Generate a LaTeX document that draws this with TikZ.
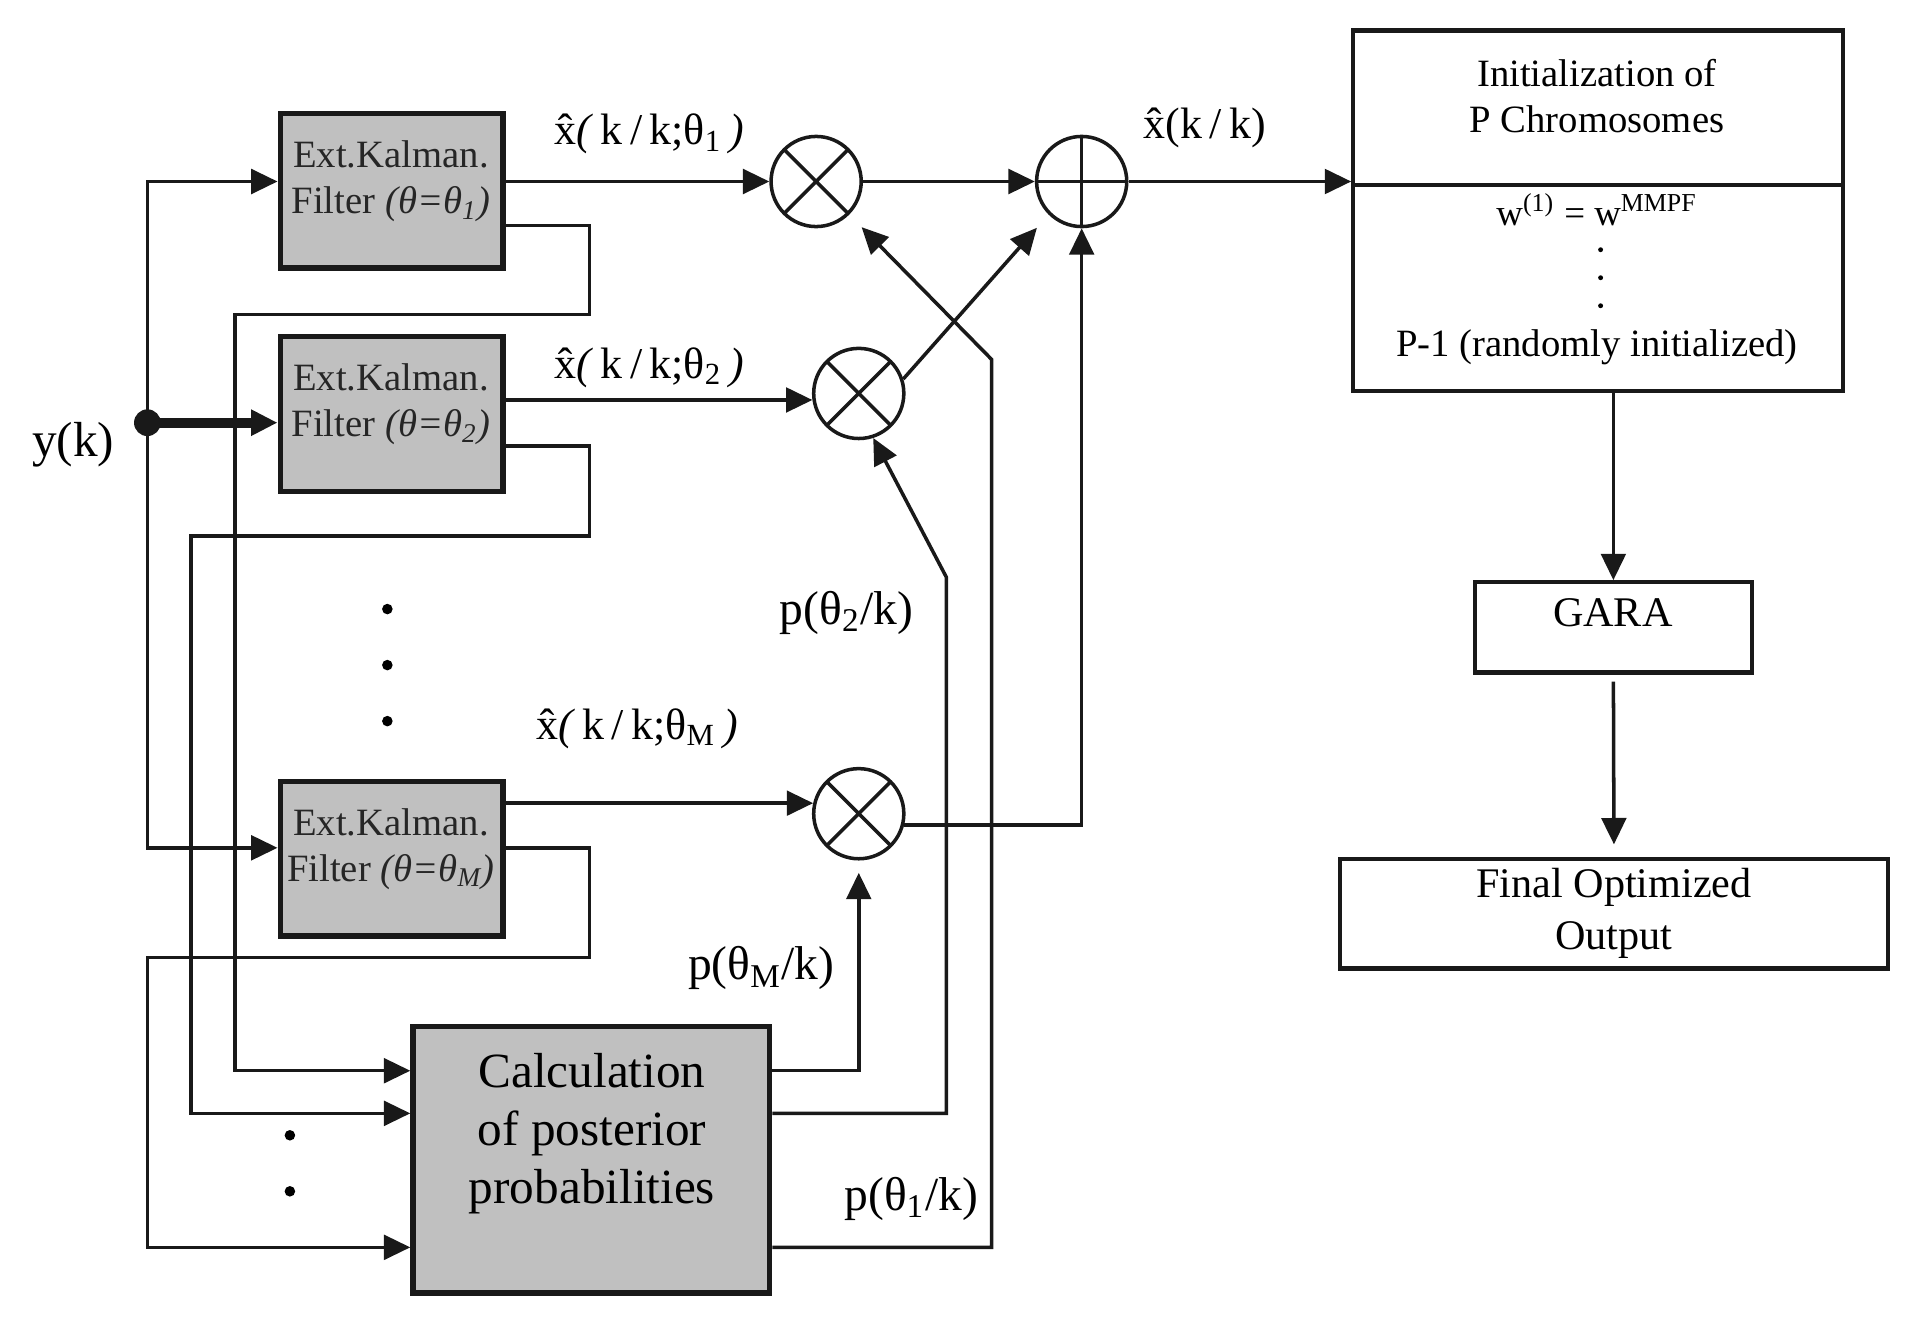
\documentclass[tikz,border=0pt]{standalone}
\usepackage{fontspec}
\setmainfont{Liberation Serif}
\usepackage{tikz}
\usetikzlibrary{arrows.meta,positioning,calc}
\definecolor{BoxGray}{RGB}{192,192,192}
\definecolor{LineK}  {RGB}{25, 25, 25}
\newcommand{\unitpx}{0.01218cm}
\newcommand{\xhat}{x\char"0302}

\tikzset{
  ekfbox/.style={draw=LineK,line width=1.5pt,fill=BoxGray,inner sep=0pt,
    minimum width=183*\unitpx,minimum height=127*\unitpx},
  calcbox/.style={ekfbox,minimum width=293*\unitpx,minimum height=219*\unitpx},
  outbox/.style={draw=LineK,line width=1.2pt,fill=white,inner sep=0pt},
  mult/.style={circle,draw=LineK,line width=1pt,minimum size=74*\unitpx,inner sep=0pt,
    path picture={\draw[line width=1pt]
      (path picture bounding box.north west)--(path picture bounding box.south east)
      (path picture bounding box.north east)--(path picture bounding box.south west);}},
  adder/.style={circle,draw=LineK,line width=1pt,minimum size=74*\unitpx,inner sep=0pt,
    path picture={\draw[line width=1pt]
      (path picture bounding box.north)--(path picture bounding box.south)
      (path picture bounding box.west)--(path picture bounding box.east);}},
  ekftxt/.style={align=center,text=black!85,font=\fontsize{11}{13}\selectfont},
  sig/.style={font=\fontsize{12.5}{14}\selectfont},
  prob/.style={font=\fontsize{13.5}{15}\selectfont},
  wire/.style={draw=LineK,line width=1pt},
  >={Triangle[length=7.5pt,width=7pt]}
}

\begin{document}
\begin{tikzpicture}[x=\unitpx,y=-\unitpx]
  \useasboundingbox (0,0) rectangle (1568,1082);

  % filter bank
  \node[ekfbox] (ekf1) at (321.5,156.5) {};
  \node[ekfbox] (ekf2) at (321.5,340) {};
  \node[ekfbox] (ekfM) at (321.5,705) {};
  \node[ekftxt] (t1) at (321,149) {Ext.Kalman.\\Filter \textit{(θ=θ\textsubscript{1})}};
  \node[ekftxt] (t2) at (321,332) {Ext.Kalman.\\Filter \textit{(θ=θ\textsubscript{2})}};
  \node[ekftxt] (tM) at (321,697) {Ext.Kalman.\\Filter \textit{(θ=θ\textsubscript{M})}};
  \foreach \y in {500,546,592}
    \fill (318,\y) circle (1.5pt);

  \node[calcbox] (calc) at (485.5,952) {};
  \node[align=center,font=\fontsize{14}{16.5}\selectfont] (tc) at (486,931)
    {Calculation\\of posterior\\probabilities};
  \foreach \y in {932,978}
    \fill (238,\y) circle (1.5pt);

  % weighting and sum
  \node[mult] (m1) at (670,149) {};
  \node[mult] (m2) at (705,323) {};
  \node[mult] (mM) at (705,668) {};
  \node[adder] (sum) at (888,149) {};

  % measurement input
  \coordinate (yk) at (121,347);
  \node[font=\fontsize{14}{16}\selectfont] (ylab) at (60,365) {y(k)};
  \draw[wire,->] (yk) |- (ekf1.west |- 0,149);
  \draw[wire,->] (yk) |- (ekfM.west |- 0,696);
  \draw[wire,->,line width=2.8pt] (yk) -- (ekf2.west |- yk);
  \fill[LineK] (yk) circle (3.8pt);

  % estimates to the multipliers
  \draw[wire,->] (ekf1.east |- m1.west) -- (m1.west);
  \draw[wire,->] (ekf2.east |- m2.188) -- (m2.188);
  \draw[wire,->] (ekfM.east |- mM.167) -- (mM.167);
  \node[sig] (lx1) at (533,110) {\xhat\textit{(}\,k\,/\,k;θ\textsubscript{1}\,\textit{)}};
  \node[sig] (lx2) at (533,302) {\xhat\textit{(}\,k\,/\,k;θ\textsubscript{2}\,\textit{)}};
  \node[sig] (lxM) at (523,598) {\xhat\textit{(}\,k\,/\,k;θ\textsubscript{M}\,\textit{)}};

  % residual feedback to the posterior block
  \draw[wire,->] (ekf1.east |- 0,185) -| (484,258) -| (193,879) -- (calc.west |- 0,879);
  \draw[wire,->] (ekf2.east |- 0,366) -| (484,440) -| (157,914) -- (calc.west |- 0,914);
  \draw[wire,->] (ekfM.east |- 0,696) -| (484,786) -| (121,1024) -- (calc.west |- 0,1024);

  % posterior weights
  \draw[wire,->,shorten >=3.5pt] (calc.east |- 0,879) -| (mM.south);
  \draw[wire,->] (calc.east |- 0,914) -| (777,474) -- (m2.-72);
  \draw[wire,->,shorten >=5pt] (calc.east |- 0,1024) -| (814,295) -- (m1.-45);
  \node[prob] (pM) at (625,795) {p(θ\textsubscript{M}/k)};
  \node[prob] (p2) at (695,503) {p(θ\textsubscript{2}/k)};
  \node[prob] (p1) at (748,984) {p(θ\textsubscript{1}/k)};

  % weighted sum
  \draw[wire,->] (m1.east) -- (sum.west);
  \draw[wire,->,shorten >=5pt] (m2.18) -- (sum.225);
  \draw[wire,->] (mM.-14) -| (sum.south);

  % GA stage
  \node[outbox,minimum width=402*\unitpx,minimum height=296*\unitpx] (init) at (1312,173) {};
  \draw[LineK,line width=1.2pt] (init.west |- 0,152) -- (init.east |- 0,152);
  \node[align=center,font=\fontsize{11}{13}\selectfont] (ti) at (1311,79)
    {Initialization of\\P Chromosomes};
  \node[font=\fontsize{10.5}{12}\selectfont] (tw) at (1311,172)
    {w\textsuperscript{(1)} = w\textsuperscript{MMPF}};
  \foreach \y in {205,228,251}
    \fill (1314,\y) circle (0.7pt);
  \node[font=\fontsize{11}{13}\selectfont] (tp) at (1311,285) {P-1 (randomly initialized)};

  \draw[wire,->] (sum.east) -- (sum.east -| init.west);
  \node[sig] (lx) at (989,105) {\xhat(k\,/\,k)};

  \node[outbox,minimum width=227*\unitpx,minimum height=74*\unitpx] (gara) at (1324.5,515) {};
  \node[font=\fontsize{12}{14}\selectfont] (tg) at (1324,503) {GARA};
  \node[outbox,minimum width=450*\unitpx,minimum height=90*\unitpx,align=center,
    font=\fontsize{12}{14.9}\selectfont] (final) at (1325,750) {Final Optimized\\Output};

  \draw[wire,->] (gara.north |- init.south) -- (gara.north);
  \draw[wire,->,shorten <=2pt,shorten >=3.5pt] (gara.south) -- (final.north);
\end{tikzpicture}
\end{document}
